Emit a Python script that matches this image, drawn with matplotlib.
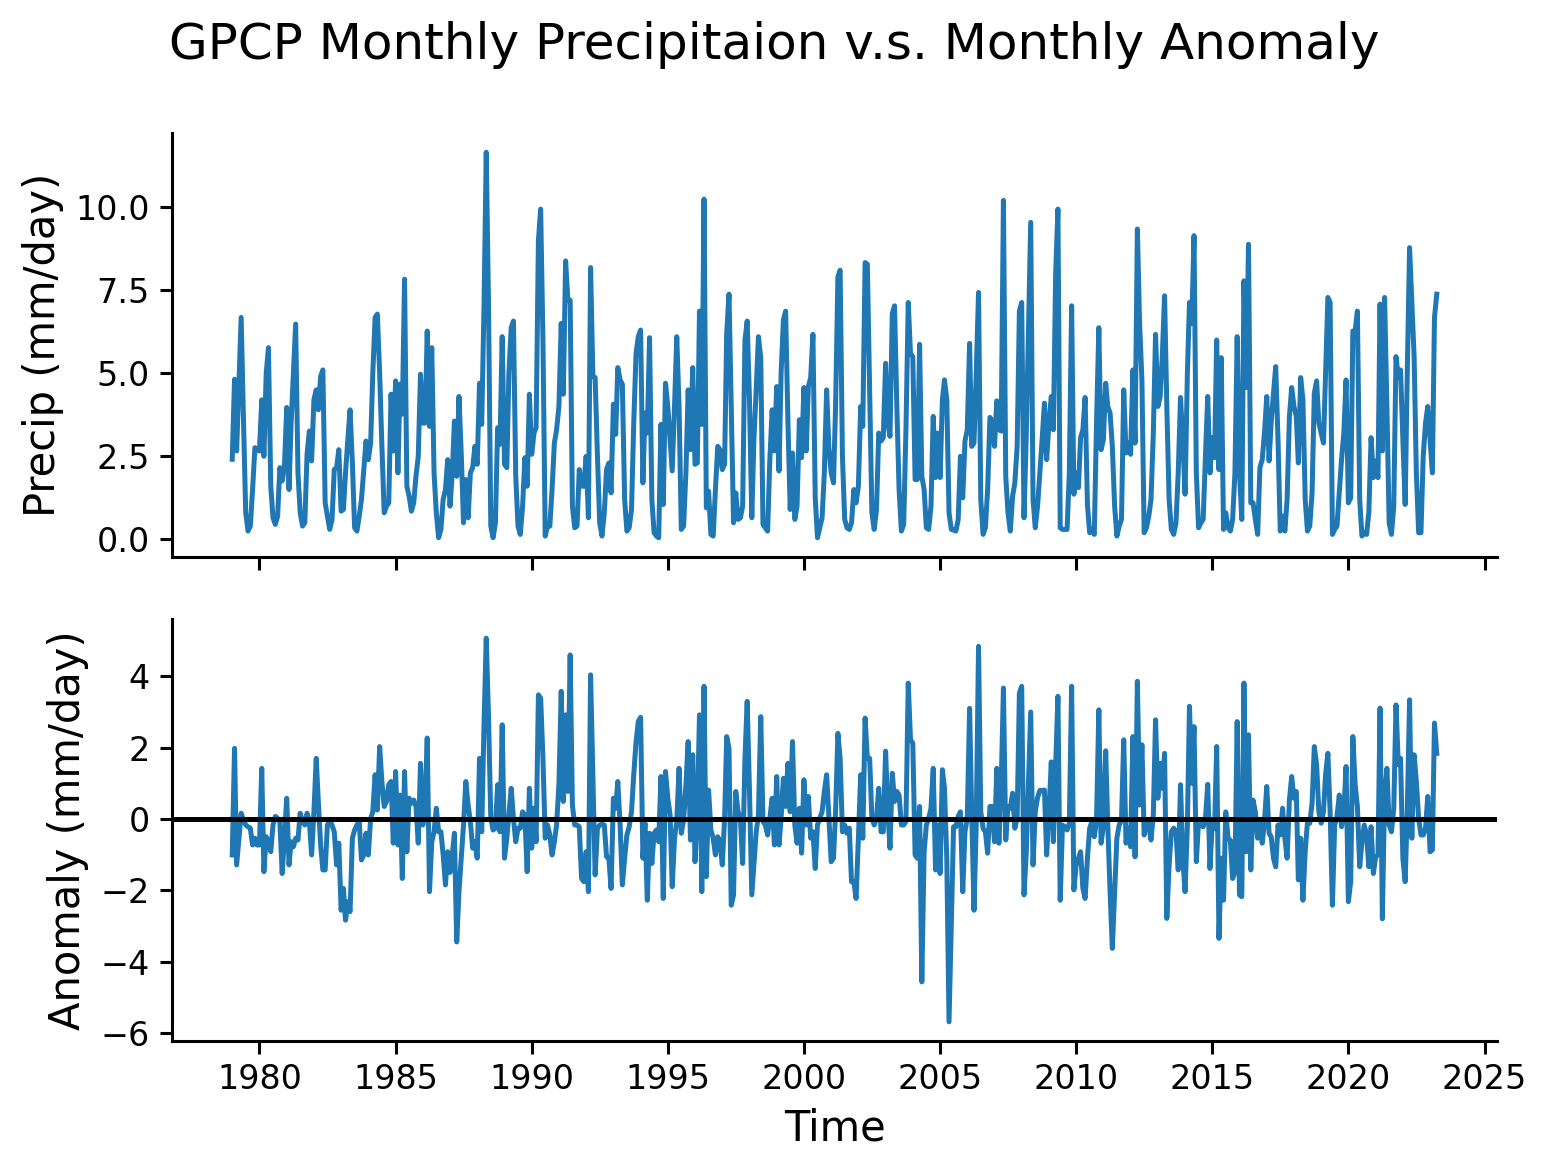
import numpy as np
import pandas as pd
import matplotlib
matplotlib.use("Agg")
import matplotlib.pyplot as plt
import matplotlib.dates as mdates

# Monthly time axis: Jan 1979 .. Apr 2023
start_month = "1979-01-01"
n_months = 532

# GPCP monthly precipitation (mm/day), one row per year
precip = [
    2.41, 4.82, 2.66, 4.67, 6.68, 3.6, 0.8, 0.25, 0.4, 1.5, 2.76, 2.7,      # 1979
    2.66, 4.2, 2.5, 5.0, 5.77, 1.6, 0.65, 0.45, 0.7, 2.16, 1.76, 2.16,      # 1980
    3.97, 1.5, 3.5, 5.0, 6.48, 2.0, 0.8, 0.4, 0.5, 2.56, 3.26, 2.36,        # 1981
    4.2, 4.5, 3.9, 4.9, 5.1, 1.1, 0.7, 0.3, 0.6, 2.1, 2.16, 2.7,            # 1982
    0.85, 0.9, 2.0, 3.0, 3.9, 2.3, 0.35, 0.25, 0.7, 1.2, 2.1, 2.96,         # 1983
    2.4, 2.9, 5.0, 6.68, 6.78, 5.0, 2.8, 0.8, 1.0, 1.1, 4.37, 2.66,         # 1984
    4.77, 2.0, 4.67, 3.77, 7.83, 1.6, 1.3, 0.85, 1.1, 1.9, 2.5, 4.97,       # 1985
    3.5, 3.5, 6.27, 3.4, 5.77, 2.0, 0.8, 0.05, 0.3, 1.2, 1.5, 2.4,          # 1986
    1.0, 2.0, 3.56, 1.9, 4.3, 2.56, 0.5, 1.8, 0.65, 2.0, 2.16, 2.8,         # 1987
    2.26, 4.7, 3.46, 7.0, 11.65, 7.0, 0.4, 0.05, 0.5, 3.36, 2.86, 6.1,      # 1988
    2.26, 2.16, 5.0, 6.37, 6.57, 1.9, 0.4, 0.15, 1.0, 2.46, 1.6, 4.37,      # 1989
    2.56, 3.2, 3.36, 9.0, 9.94, 6.0, 0.1, 0.4, 0.4, 1.5, 2.9, 3.3,          # 1990
    4.0, 6.5, 4.37, 8.38, 7.2, 7.2, 1.0, 0.35, 0.4, 2.1, 1.6, 1.6,          # 1991
    2.5, 0.65, 8.18, 4.9, 4.87, 2.5, 0.5, 0.1, 0.8, 2.1, 2.3, 1.4,          # 1992
    4.07, 3.16, 5.17, 4.8, 4.67, 1.2, 0.25, 0.35, 0.9, 3.5, 5.6, 6.1,       # 1993
    6.3, 1.7, 3.8, 3.2, 6.07, 1.2, 0.2, 0.1, 0.05, 3.46, 1.05, 4.7,         # 1994
    4.0, 3.0, 2.06, 4.0, 6.1, 4.0, 0.3, 0.4, 2.0, 4.5, 2.7, 5.17,           # 1995
    2.26, 2.3, 6.87, 3.46, 10.24, 0.95, 1.45, 0.15, 0.1, 1.5, 2.8, 2.7,     # 1996
    2.1, 2.26, 6.2, 7.38, 4.0, 0.5, 1.4, 0.6, 0.65, 1.0, 6.0, 6.57,         # 1997
    4.17, 0.65, 3.0, 4.5, 6.1, 5.47, 0.45, 0.35, 0.25, 2.4, 3.9, 2.66,      # 1998
    4.6, 2.06, 5.0, 6.6, 6.87, 3.5, 0.9, 2.6, 0.6, 1.0, 3.6, 2.46,          # 1999
    4.57, 2.66, 4.6, 4.87, 6.17, 1.25, 0.05, 0.35, 0.65, 2.0, 4.5, 2.76,    # 2000
    2.0, 1.7, 4.0, 7.9, 8.1, 2.5, 0.6, 0.35, 0.3, 0.5, 1.5, 1.1,            # 2001
    1.6, 4.0, 3.4, 8.33, 8.28, 4.5, 0.8, 0.3, 0.9, 3.2, 2.96, 3.06,         # 2002
    5.3, 3.5, 3.1, 6.8, 7.03, 4.0, 1.5, 0.25, 0.45, 3.3, 7.13, 5.6,         # 2003
    5.5, 1.8, 1.8, 5.87, 1.9, 1.5, 0.35, 0.3, 1.0, 3.7, 1.86, 3.2,          # 2004
    1.86, 4.2, 4.8, 4.2, 0.8, 0.3, 0.28, 0.25, 0.6, 2.5, 1.25, 2.96,        # 2005
    3.3, 5.9, 2.8, 2.9, 5.0, 7.43, 1.2, 0.15, 0.35, 1.5, 3.67, 3.56,        # 2006
    2.8, 4.17, 3.3, 3.26, 10.2, 1.9, 0.8, 0.25, 1.3, 1.7, 2.8, 6.87,        # 2007
    7.13, 0.65, 3.0, 6.4, 9.54, 1.2, 0.35, 1.0, 2.0, 3.0, 4.1, 2.4,         # 2008
    3.5, 4.3, 3.3, 8.0, 9.94, 0.35, 0.3, 0.3, 0.3, 2.0, 7.03, 1.36,         # 2009
    2.0, 1.56, 3.06, 3.3, 4.27, 1.05, 0.2, 0.3, 0.15, 3.5, 6.37, 2.7,       # 2010
    3.0, 4.7, 4.0, 3.8, 2.8, 1.0, 0.1, 0.4, 0.6, 4.5, 2.6, 2.9,             # 2011
    2.56, 5.1, 2.9, 9.34, 6.5, 4.8, 0.2, 0.35, 0.7, 1.2, 3.2, 6.17,         # 2012
    4.0, 4.3, 5.5, 7.33, 4.0, 1.2, 0.3, 0.15, 0.5, 2.0, 4.27, 3.0,          # 2013
    1.36, 5.0, 7.13, 6.5, 9.14, 2.0, 0.35, 0.5, 0.6, 2.5, 4.3, 2.0,         # 2014
    3.06, 2.46, 6.0, 2.1, 5.47, 0.3, 0.8, 0.35, 0.25, 0.6, 2.0, 6.1,        # 2015
    2.0, 0.6, 7.78, 4.57, 8.88, 1.1, 1.1, 0.6, 0.15, 2.16, 2.4, 3.2,        # 2016
    4.3, 2.36, 3.5, 4.4, 5.2, 3.0, 0.25, 0.7, 0.25, 1.2, 3.7, 4.57,         # 2017
    4.0, 3.7, 2.3, 4.87, 4.2, 1.2, 0.25, 0.4, 1.4, 4.4, 4.77, 3.5,          # 2018
    3.2, 2.9, 5.0, 7.28, 7.13, 0.15, 0.3, 0.4, 1.4, 2.4, 3.2, 4.8,          # 2019
    1.1, 1.25, 6.27, 6.27, 6.87, 1.2, 0.1, 0.2, 0.15, 0.8, 3.06, 1.86,      # 2020
    2.36, 1.86, 7.08, 2.66, 7.28, 4.0, 0.5, 0.15, 1.0, 5.5, 4.87, 5.1,      # 2021
    3.0, 1.05, 5.0, 8.78, 7.2, 5.5, 2.0, 0.2, 0.2, 2.5, 3.5, 4.0,           # 2022
    3.0, 2.0, 6.67, 7.38,                                                   # 2023
]

# Monthly anomaly (mm/day), one row per year
anomaly = [
    -1.01, 1.98, -1.29, -0.54, 0.16, -0.03, -0.17, -0.22, -0.26, -0.73, -0.54, -0.73,   # 1979
    -0.73, 1.42, -1.48, -0.5, -0.64, -0.92, -0.17, 0.07, 0.02, -0.07, -1.53, -0.54,     # 1980
    0.58, -1.29, -0.64, -0.78, -0.54, -0.59, 0.16, -0.07, -0.17, 0.16, -0.07, -1.01,    # 1981
    0.2, 1.7, 0.49, -0.73, -1.43, -1.43, -0.17, -0.07, -0.17, -0.36, -1.29, -0.68,      # 1982
    -2.56, -1.95, -2.84, -2.32, -2.6, -0.54, -0.31, -0.17, -0.07, -1.15, -1.01, -0.4,   # 1983
    -1.01, 0.02, 0.2, 1.24, 0.25, 2.03, 1.05, 0.35, 0.49, 0.96, 1.05, -0.68,            # 1984
    1.33, -0.73, 0.67, -1.67, 1.33, -0.92, 0.58, 0.44, 0.53, 0.35, -0.68, 1.56,         # 1985
    -0.17, 0.39, 2.27, -2.04, -0.64, -0.36, 0.3, -0.36, -0.36, -1.01, -1.85, -0.92,     # 1986
    -1.5, -1.0, -0.4, -3.45, -2.04, -1.1, -0.17, 1.05, 0.39, -0.07, -0.82, -0.64,       # 1987
    -1.1, 1.7, -0.36, 2.64, 5.07, 2.83, 0.02, -0.31, -0.26, 0.96, -0.36, 2.64,          # 1988
    -1.1, -0.54, 0.11, 0.86, 0.02, -0.64, -0.26, -0.26, 0.2, 0.11, -1.48, 0.86,         # 1989
    -0.82, 0.3, -0.64, 3.48, 3.39, 1.7, -0.54, -0.17, -0.45, -1.01, -0.64, -0.17,       # 1990
    0.96, 3.58, 0.49, 2.92, 0.77, 4.6, 0.39, -0.17, -0.17, -0.22, -1.67, -1.76,         # 1991
    -0.92, -2.04, 4.04, 1.24, -1.57, -0.26, -0.17, -0.15, -0.17, -1.06, -1.1, -1.95,    # 1992
    0.58, 0.3, 1.05, -0.17, -1.85, -1.1, -0.45, -0.22, 0.2, 1.24, 2.17, 2.73,           # 1993
    2.85, -1.1, -0.12, -2.28, -0.4, -1.25, -0.4, -0.31, -0.64, 1.19, -2.23, 1.33,       # 1994
    0.58, 0.11, -1.9, -0.54, -0.07, 1.42, -0.4, -0.03, 0.96, 2.17, -0.59, 1.8,          # 1995
    -1.2, 0.2, 2.92, -2.04, 3.72, -1.62, 0.81, -0.31, -0.54, -1.01, -0.5, -0.64,        # 1996
    -1.29, 0.02, 2.31, 1.98, -2.42, -2.13, 0.77, 0.2, 0.02, -1.25, 1.7, 3.3,            # 1997
    0.77, -2.13, -1.29, -0.36, 0.11, 2.87, -0.07, -0.17, -0.45, 0.02, 0.58, -0.73,      # 1998
    1.19, -0.73, 0.02, 1.14, 0.35, 1.56, 0.2, 2.17, -0.17, -0.68, 0.3, -0.96,           # 1999
    1.1, -0.17, 0.63, -0.54, -0.36, -1.39, -0.17, 0.02, 0.2, 0.77, 1.24, 0.02,          # 2000
    -1.2, -1.1, 0.2, 2.4, 1.7, -0.36, -0.17, -0.4, -0.26, -1.76, -1.76, -2.23,          # 2001
    -0.54, 1.24, -0.54, 2.83, 1.7, 1.7, 0.02, -0.17, 0.02, 0.86, -0.36, -0.36,          # 2002
    1.9, 0.2, -0.82, 1.28, 0.49, 0.77, 0.67, -0.17, -0.17, -0.07, 3.81, 2.22,           # 2003
    2.13, -1.01, -1.1, 0.35, -4.57, -0.92, -0.17, 0.02, 0.3, 1.42, -1.43, -0.17,        # 2004
    -1.53, 1.38, 0.86, -1.1, -5.69, -2.9, -0.22, -0.22, 0.07, 0.2, -2.04, -0.36,        # 2005
    0.02, 3.1, 0.2, -2.56, -0.17, 4.84, 0.2, -0.26, -0.36, -0.96, 0.35, 0.35,           # 2006
    -0.64, 1.42, -0.68, 0.96, 3.67, -0.59, 0.35, 0.3, 0.72, -0.26, 0.02, 3.53,          # 2007
    3.72, -2.13, -1.0, 1.0, 3.0, -1.29, 0.2, 0.6, 0.8, 0.8, 0.81, -1.01,                # 2008
    0.2, 1.6, -0.64, 1.52, 3.44, -2.28, -0.17, -0.22, -0.31, -0.12, 3.72, -1.99,        # 2009
    -1.29, -1.1, -0.92, -1.95, -2.23, -1.1, -0.26, -0.07, -0.5, -0.03, 3.06, -0.68,     # 2010
    -0.2, 1.91, -0.17, -2.04, -3.63, -2.04, -0.54, -0.17, -0.03, 2.22, -0.68, -0.26,    # 2011
    -0.78, 2.31, -1.06, 3.86, 0.39, 2.08, -0.45, -0.07, -0.17, -0.59, 0.11, 2.78,       # 2012
    0.58, 1.56, 0.86, 1.84, -2.79, -1.29, -0.36, -0.26, -0.36, -1.43, 0.96, -1.1,       # 2013
    -2.04, -0.17, 3.16, 1.0, 2.59, -1.2, -0.07, -0.17, -0.22, 0.0, 0.97, -1.39,         # 2014
    -0.12, -0.26, 2.03, -3.35, -1.1, -2.28, 0.2, -0.54, -0.6, -1.67, -1.5, 2.73,        # 2015
    -2.13, -2.18, 3.81, -0.92, 2.36, -1.43, 0.53, 0.2, -0.54, -0.07, -0.68, -0.07,      # 2016
    0.91, -0.4, -0.5, -1.1, -1.34, -0.17, -0.45, 0.3, -0.54, -1.1, 0.53, 1.19,          # 2017
    0.58, 0.77, -1.71, -0.54, -2.28, -0.9, -0.1, -0.12, 0.44, 2.03, 1.52, 0.2,          # 2018
    -0.12, 0.2, 1.24, 1.84, 0.2, -2.42, -0.17, 0.07, 0.67, -0.22, 0.2, 1.47,            # 2019
    -2.32, -1.76, 2.31, 0.96, 0.35, -1.34, -0.64, -0.17, -0.45, -1.34, -0.22, -1.53,    # 2020
    -1.06, -1.01, 3.11, -2.8, 0.7, 1.42, -0.17, -0.36, 0.3, 3.2, 1.52, 1.7,             # 2021
    -1.1, -1.76, 0.2, 3.34, -0.54, 1.8, 1.05, 0.02, -0.45, -0.45, -0.26, 0.63,          # 2022
    -0.92, -0.87, 2.69, 1.84,                                                           # 2023
]

title = "GPCP Monthly Precipitaion v.s. Monthly Anomaly"
ylabel_top = "Precip (mm/day)"
ylabel_bottom = "Anomaly (mm/day)"
xlabel = "Time"

times = pd.date_range(start_month, periods=n_months, freq="MS")

W, H, DPI = 1549, 1171, 200
fig = plt.figure(figsize=(W / DPI, H / DPI), dpi=DPI)

left, right = 172 / W, 1497 / W
ax1 = fig.add_axes([left, 1 - 557 / H, right - left, (557 - 133) / H])
ax2 = fig.add_axes([left, 1 - 1041 / H, right - left, (1041 - 619) / H], sharex=ax1)

blue = "#1f77b4"
ax1.plot(times, precip, color=blue, lw=1.8)
ax2.plot(times, anomaly, color=blue, lw=1.8)
ax2.axhline(0, color="black", lw=1.8)

for ax in (ax1, ax2):
    ax.spines["top"].set_visible(False)
    ax.spines["right"].set_visible(False)
    for s in ("left", "bottom"):
        ax.spines[s].set_linewidth(1.1)
    ax.tick_params(axis="both", which="major", labelsize=12, length=4.5, width=1.1)

ax1.xaxis.set_major_locator(mdates.YearLocator(5))
ax1.xaxis.set_major_formatter(mdates.DateFormatter("%Y"))
plt.setp(ax1.get_xticklabels(), visible=False)

ax1.set_ylabel(ylabel_top, fontsize=15)
ax2.set_ylabel(ylabel_bottom, fontsize=15)
ax2.set_xlabel(xlabel, fontsize=15)
fig.suptitle(title, fontsize=18, y=0.982)

fig.savefig("out.png", dpi=DPI)
